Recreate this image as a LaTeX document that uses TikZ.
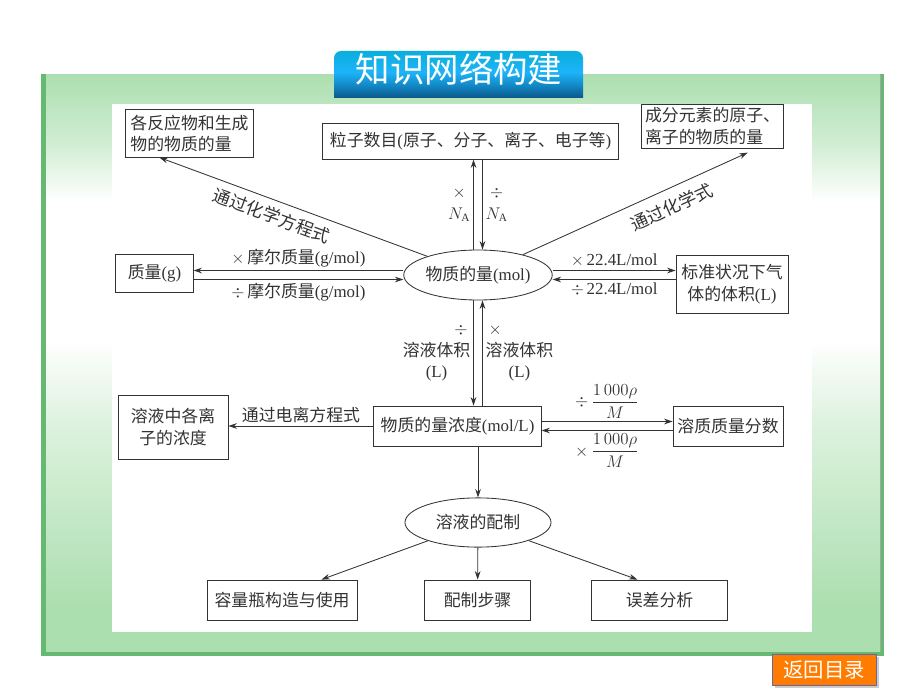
\documentclass[tikz,border=0pt]{standalone}
\usepackage{amsmath}
\usepackage{fontspec}
\setmainfont{Liberation Serif}
\newfontfamily\cjk{Noto Sans CJK SC}
\newcommand{\en}[1]{{\rmfamily #1}}
\usetikzlibrary{shapes.geometric,arrows.meta}
\definecolor{panelgreen}{HTML}{ACDFB0}
\definecolor{paneledge}{HTML}{66B970}
\definecolor{tabtop}{HTML}{0AAEDD}
\definecolor{tabmid}{HTML}{1DB4F8}
\definecolor{tabblue}{HTML}{138CCB}
\definecolor{tabbot}{HTML}{0A5787}
\definecolor{btnorange}{HTML}{FF7C00}
\definecolor{ink}{HTML}{333333}
\pgfdeclareverticalshading{panelshade}{100bp}{color(0bp)=(panelgreen); color(29bp)=(panelgreen); color(45bp)=(panelgreen!40!white); color(52bp)=(white); color(64bp)=(white); color(69bp)=(panelgreen!55!white); color(75bp)=(panelgreen); color(100bp)=(panelgreen)}
\pgfdeclareverticalshading{tabshade}{100bp}{color(0bp)=(tabbot); color(35bp)=(tabbot); color(47bp)=(tabblue); color(57bp)=(tabmid); color(75bp)=(tabtop); color(100bp)=(tabtop)}
\tikzset{
  box/.style={draw=ink, line width=0.6pt, align=center, inner sep=2pt},
  oval/.style={draw=ink, line width=0.6pt, ellipse, inner sep=0pt},
  arr/.style={-{Stealth[length=6pt,width=4pt]}, draw=ink, line width=0.6pt},
  lbl/.style={text=ink, inner sep=2pt, align=center}
}
\begin{document}
\begin{tikzpicture}[x=0.025cm, y=-0.025cm, font=\cjk\fontsize{12}{15.5}\selectfont, text=ink]
  \useasboundingbox (0,0) rectangle (920,690);
  % panel
  \fill[paneledge] (41,74) rectangle (884,656);
  \shade[shading=panelshade] (46,75) rectangle (880,651);
  \draw[black!35, line width=0.5pt] (880,75) -- (880,651);
  \fill[white] (112,104) rectangle (812,632);
  \begin{scope}
    \clip (334,51) rectangle (583,98);
    \shade[shading=tabshade, rounded corners=5pt] (334,51) rectangle (583,110);
  \end{scope}
  \node[text=white, font=\cjk\fontsize{24.5}{24}\selectfont] (title) at (459,69) {知识网络构建};
  \fill[black!20] (775,657) rectangle (879,688);
  \draw[fill=btnorange, draw=black!60!blue!60, line width=0.7pt] (772,654) rectangle (876,685);
  \node[text=white, font=\cjk\fontsize{14.5}{15}\selectfont] (back) at (824,669.5) {返回目录};

  % nodes
  \node[box, align=left, minimum width=3.18cm, minimum height=1.18cm] (rxn) at (189.5,133.5) {各反应物和生成\\物的物质的量};
  \node[box, minimum width=7.38cm, minimum height=0.88cm] (num) at (470.5,141.5) {粒子数目\en{(}原子、分子、离子、电子等\en{)}};
  \node[box, align=left, minimum width=3.53cm, minimum height=1.1cm] (elem) at (712.5,126) {成分元素的原子、\\离子的物质的量};
  \node[oval, minimum width=3.7cm, minimum height=1.25cm] (mol) at (478,275) {物质的量\en{(mol)}};
  \node[box, minimum width=1.93cm, minimum height=0.93cm] (mass) at (154.5,273.5) {质量\en{(g)}};
  \node[box, minimum width=2.8cm, minimum height=1.45cm] (gas) at (732,284) {标准状况下气\\体的体积\en{(L)}};
  \node[box, minimum width=4.18cm, minimum height=1cm] (conc) at (457.5,426) {物质的量浓度\en{(mol/L)}};
  \node[box, minimum width=2.75cm, minimum height=1.6cm] (ion) at (173,427) {溶液中各离\\子的浓度};
  \node[box, minimum width=2.75cm, minimum height=1cm] (wfrac) at (728,426) {溶质质量分数};
  \node[oval, minimum width=3.65cm, minimum height=1.23cm] (prep) at (478,522.5) {溶液的配制};
  \node[box, minimum width=3.75cm, minimum height=1cm] (flask) at (282,600) {容量瓶构造与使用};
  \node[box, minimum width=2.63cm, minimum height=1cm] (steps) at (477.5,600) {配制步骤};
  \node[box, minimum width=3.38cm, minimum height=1cm] (error) at (659.5,600) {误差分析};

  % connectors
  \draw[arr] (mol) -- ([xshift=0.85cm]rxn.south west) node[lbl, pos=.56, sloped, below=3pt, font=\cjk\fontsize{12.5}{15}\selectfont] {通过化学方程式};
  \draw[arr] (mol) -- ([xshift=0.88cm,yshift=-3pt]elem.south) node[lbl, pos=.63, sloped, below=5pt, font=\cjk\fontsize{12.5}{15}\selectfont] {通过化学式};
  \draw[arr] ([xshift=-3.2pt]mol.north) -- ([xshift=-3.2pt]mol.north |- num.south) node[lbl, midway, left] {$\times$\\$N_{\mathrm{A}}$};
  \draw[arr] ([xshift=3.2pt]mol.north |- num.south) -- ([xshift=3.2pt]mol.north) node[lbl, midway, right] {$\div$\\$N_{\mathrm{A}}$};
  \draw[arr] ([yshift=3.2pt]mol.west) -- ([yshift=3.2pt]mol.west -| mass.east) node[lbl, midway, above] {$\times$\,摩尔质量\en{(g/mol)}};
  \draw[arr] ([yshift=-3.2pt]mol.west -| mass.east) -- ([yshift=-3.2pt]mol.west) node[lbl, midway, below] {$\div$\,摩尔质量\en{(g/mol)}};
  \draw[arr] ([yshift=3.2pt]mol.east) -- ([yshift=3.2pt]mol.east -| gas.west) node[lbl, midway, above] {$\times$\,\en{22.4L/mol}};
  \draw[arr] ([yshift=-3.2pt]mol.east -| gas.west) -- ([yshift=-3.2pt]mol.east) node[lbl, midway, below] {$\div$\,\en{22.4L/mol}};
  \draw[arr] ([xshift=-3.2pt]mol.south) -- ([xshift=-3.2pt]mol.south |- conc.north) node[lbl, midway, left] {\makebox[4em][r]{$\div$\,}\\溶液体积\\\en{(L)}};
  \draw[arr] ([xshift=3.2pt]mol.south |- conc.north) -- ([xshift=3.2pt]mol.south) node[lbl, midway, right] {\makebox[4em][l]{\,$\times$}\\溶液体积\\\en{(L)}};
  \draw[arr] (conc.west) -- (conc.west -| ion.east) node[lbl, midway, above] {通过电离方程式};
  \draw[arr] ([yshift=3.2pt]conc.east) -- ([yshift=3.2pt]conc.east -| wfrac.west) node[lbl, midway, above] {$\div\,\dfrac{1\,000\rho}{M}$};
  \draw[arr] ([yshift=-3.2pt]conc.east -| wfrac.west) -- ([yshift=-3.2pt]conc.east) node[lbl, midway, below] {$\times\,\dfrac{1\,000\rho}{M}$};
  \draw[arr] (conc.south -| prep.north) -- (prep.north);
  \draw[arr] (prep) -- ([xshift=-0.9cm]flask.north east);
  \draw[arr] (prep) -- (steps);
  \draw[arr] (prep) -- ([xshift=1.15cm]error.north west);
\end{tikzpicture}
\end{document}
